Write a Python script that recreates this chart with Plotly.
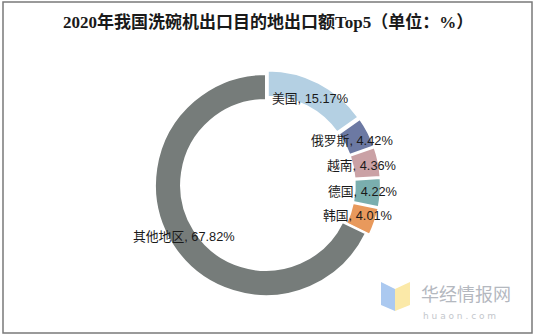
import math
import plotly.graph_objects as go

categories = ["美国", "俄罗斯", "越南", "德国", "韩国", "其他地区"]
values = [15.17, 4.42, 4.36, 4.22, 4.01, 67.82]
colors = ["#b4d0e3", "#6c79a3", "#caa1a5", "#7aaeae", "#e8995c", "#767c7a"]
pulls = [0.035, 0.035, 0.035, 0.035, 0.035, 0]
title_text = "2020年我国洗碗机出口目的地出口额Top5（单位：%）"

W, H = 535, 336
cx, cy = 266, 185          # donut centre (px)
R = 111                    # outer radius of unpulled slice (px)
maxpull = max(pulls)
D = 2 * R * (1 + maxpull)

fig = go.Figure()
fig.add_trace(go.Pie(
    labels=categories,
    values=values,
    sort=False,
    direction="clockwise",
    rotation=0,
    hole=0.765,
    pull=pulls,
    marker=dict(colors=colors, line=dict(color="white", width=2)),
    textinfo="none",
    hoverinfo="label+percent",
    showlegend=False,
    domain=dict(x=[(cx - D / 2) / W, (cx + D / 2) / W],
                y=[1 - (cy + D / 2) / H, 1 - (cy - D / 2) / H]),
))

annotations = []
total = sum(values)
cum = 0
r_lab = 97
for cat, v in zip(categories, values):
    mid = (cum + v / 2) / total * 2 * math.pi
    cum += v
    xp = cx + r_lab * math.sin(mid)
    yp = cy - r_lab * math.cos(mid)
    annotations.append(dict(
        x=xp / W, y=1 - yp / H, xref="paper", yref="paper",
        text=f"{cat}, {v:.2f}%", showarrow=False,
        xanchor="center", yanchor="middle",
        font=dict(family="Liberation Sans, Noto Sans CJK SC", size=12.8, color="#1a1a1a"),
    ))

annotations.append(dict(
    x=268 / W, y=1 - 22 / H, xref="paper", yref="paper",
    text=f"<b>{title_text}</b>", showarrow=False,
    xanchor="center", yanchor="middle",
    font=dict(family="Liberation Serif, Noto Sans CJK SC", size=17, color="#1a1a1a"),
))
annotations.append(dict(
    x=419 / W, y=1 - 293 / H, xref="paper", yref="paper",
    text="华经情报网", showarrow=False, xanchor="left", yanchor="middle",
    font=dict(family="Noto Sans CJK SC", size=18, color="#b4b8bf"),
))
annotations.append(dict(
    x=421 / W, y=1 - 316 / H, xref="paper", yref="paper",
    text="h u a o n . c o m", showarrow=False, xanchor="left", yanchor="middle",
    font=dict(family="DejaVu Sans", size=9, color="#c4c7cc"),
))

def px(x, y):
    return f"{x / W},{1 - y / H}"

shapes = [
    dict(type="rect", xref="paper", yref="paper",
         x0=3 / W, x1=532 / W, y0=1 - 333 / H, y1=1 - 2 / H,
         line=dict(color="#7a7a7a", width=1.5), fillcolor="rgba(0,0,0,0)"),
    dict(type="path", xref="paper", yref="paper",
         path=f"M {px(381, 282)} L {px(395, 289)} L {px(395, 311)} L {px(381, 305)} Z",
         fillcolor="#abc9f0", line=dict(width=0)),
    dict(type="path", xref="paper", yref="paper",
         path=f"M {px(395, 289)} L {px(410, 282)} L {px(410, 305)} L {px(395, 311)} Z",
         fillcolor="#fbe9a8", line=dict(width=0)),
]

fig.update_layout(
    width=W, height=H,
    margin=dict(l=0, r=0, t=0, b=0),
    paper_bgcolor="white", plot_bgcolor="white",
    annotations=annotations,
    shapes=shapes,
)

fig.write_html("out.html")
